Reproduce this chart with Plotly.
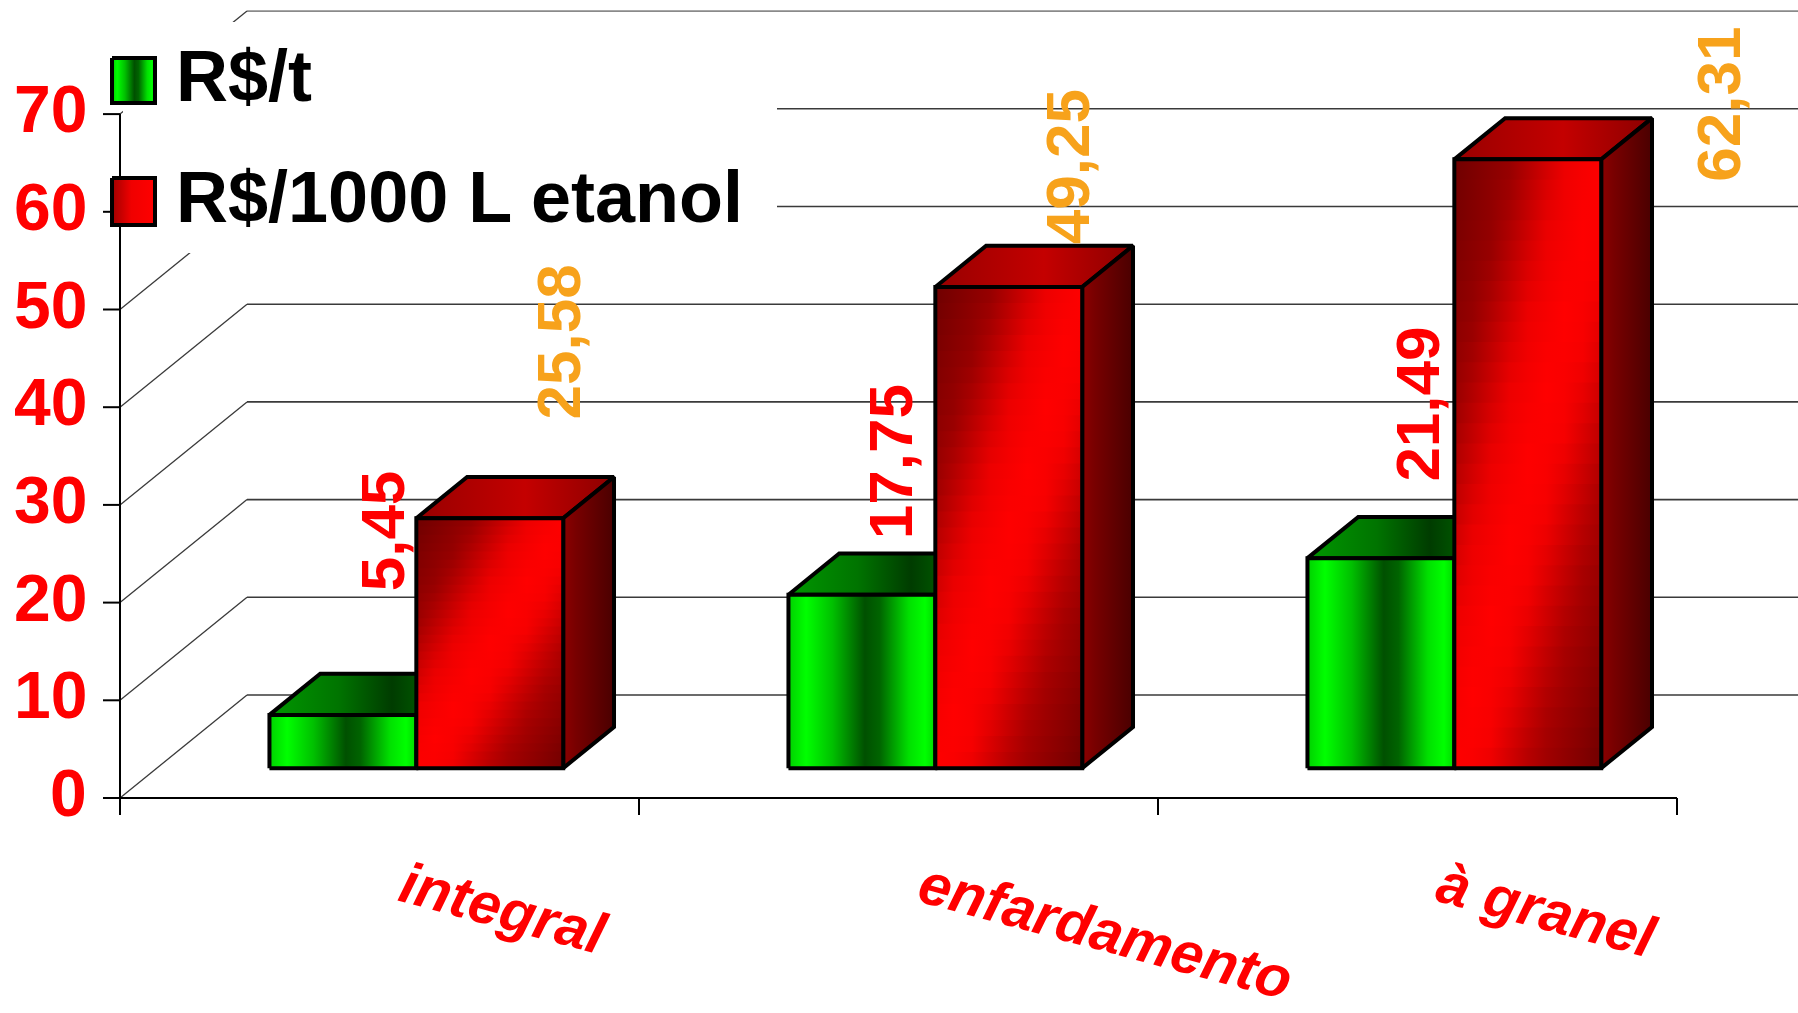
import numpy as np
import plotly.graph_objects as go

# ---------------- data ----------------
categories = ["integral", "enfardamento", "à granel"]
series_names = ["R$/t", "R$/1000 L etanol"]
custo_por_t = [5.45, 17.75, 21.49]
custo_por_1000l = [25.58, 49.25, 62.31]
y_ticks = [0, 10, 20, 30, 40, 50, 60, 70]

# ---------------- canvas / oblique 3-D projection ----------------
W, H = 1798, 1013
X0_PX, Y0_PX = 120, 798          # pixel of the front corner (category 0, value 0)
CAT_PX = 519.0                   # pixels per category slot
VAL_PX = 9.77                    # pixels per value unit
WALL_DX = 127 / CAT_PX           # depth of the box, in x units
WALL_DY = 103 / VAL_PX           # depth of the box, in y units
BAR_W = 0.283                    # bar width, in category units
D_FRONT, D_BACK = 0.29, 0.69     # bar front / back depth (fraction of the box)

X_MIN, X_MAX = -X0_PX / CAT_PX, (W - X0_PX) / CAT_PX
Y_MIN, Y_MAX = (Y0_PX - H) / VAL_PX, Y0_PX / VAL_PX


def proj(x, v, d):
    """Project (category x, value v, depth d) onto the 2-D axes."""
    return x + d * WALL_DX, v + d * WALL_DY


def px_x(px):
    return (px - X0_PX) / CAT_PX


def px_y(py):
    return (Y0_PX - py) / VAL_PX


def pap_y(py):
    return 1 - py / H


FONT_SANS = "Liberation Sans, Arial, sans-serif"

# face shading
GREEN_FRONT = [[0, "#00d000"], [0.12, "#00ff00"], [0.3, "#00c000"], [0.52, "#005000"],
               [0.62, "#006400"], [0.82, "#00e000"], [0.93, "#00ff00"], [1, "#00d800"]]
GREEN_TOP = [[0, "#009800"], [0.35, "#007400"], [0.62, "#003c00"], [0.82, "#006000"], [1, "#007000"]]
RED_TOP = [[0, "#980000"], [0.55, "#c40000"], [1, "#8c0000"]]
RED_SIDE = [[0, "#8c0000"], [0.25, "#780000"], [1, "#4a0000"]]
# diagonal shading of the red front face, as a function of s = x_frac - y_frac
RED_DIAG_S = [-1.0, -0.6, -0.25, 0.0, 0.2, 0.55, 1.0]
RED_DIAG_R = [0x6e, 0x98, 0xec, 0xff, 0xf6, 0xa8, 0x70]
LEGEND_RED = [[0, "#a00000"], [0.45, "#f00000"], [1, "#ff0000"]]

OUTLINE = dict(color="black", width=4)

fig = go.Figure()


def add_poly(xs, ys, scale=None, line=None, fill=True):
    fig.add_trace(go.Scatter(
        x=list(xs) + [xs[0]], y=list(ys) + [ys[0]],
        mode="lines",
        fill="toself" if fill else None,
        fillgradient=dict(type="horizontal", colorscale=scale) if (fill and scale) else None,
        line=line if line else dict(width=0, color="rgba(0,0,0,0)"),
        hoverinfo="skip", showlegend=False,
    ))


def add_lines(segments, color, width):
    xs, ys = [], []
    for (xa, ya), (xb, yb) in segments:
        xs += [xa, xb, None]
        ys += [ya, yb, None]
    fig.add_trace(go.Scatter(x=xs, y=ys, mode="lines",
                             line=dict(color=color, width=width),
                             hoverinfo="skip", showlegend=False))


# ---------------- walls ----------------
back = [(proj(0, v, 1), (X_MAX + 1, v + WALL_DY)) for v in y_ticks[:-1]]
add_lines(back, "#3a3a3a", 1.6)
add_lines([(proj(0, y_ticks[-1], 1), (X_MAX + 1, y_ticks[-1] + WALL_DY))], "#8a8a8a", 1.6)
side = [(proj(0, v, 0), proj(0, v, 1)) for v in y_ticks]
add_lines(side, "#3a3a3a", 1.3)

# ---------------- legend backdrop ----------------
add_poly([px_x(123), px_x(777), px_x(777), px_x(123)],
         [px_y(22), px_y(22), px_y(253), px_y(253)],
         scale=[[0, "white"], [1, "white"]])

# ---------------- axes ----------------
add_lines([((0, 0), (0, y_ticks[-1]))], "black", 2)
add_lines([((px_x(103), v), (0, v)) for v in y_ticks], "black", 2)
add_lines([((0, 0), (len(categories), 0))], "black", 2)
add_lines([((k, 0), (k, px_y(815))) for k in range(len(categories) + 1)], "black", 2)


# ---------------- bars ----------------
def rgb(r):
    return f"rgb({int(round(r))},0,0)"


def bar(i, series, v):
    xl = i + 0.5 - BAR_W + series * BAR_W
    xr = xl + BAR_W
    fl, fb = proj(xl, 0, D_FRONT)
    fr, _ = proj(xr, 0, D_FRONT)
    _, ft = proj(xl, v, D_FRONT)
    bl, bt = proj(xl, v, D_BACK)
    br, bb = proj(xr, 0, D_BACK)
    # top face
    add_poly([fl, fr, br, bl], [ft, ft, bt, bt],
             scale=GREEN_TOP if series == 0 else RED_TOP, line=OUTLINE)
    if series == 0:
        add_poly([fl, fr, fr, fl], [fb, fb, ft, ft], scale=GREEN_FRONT, line=OUTLINE)
        return
    # right side face
    add_poly([fr, br, br, fr], [fb, bb, bt, ft], scale=RED_SIDE, line=OUTLINE)
    # front face with diagonal shading, built from thin horizontal strips
    n = 30
    xf = np.linspace(0, 1, 9)
    for k in range(n):
        yf = (k + 0.5) / n
        s = xf - yf
        reds = np.interp(s, RED_DIAG_S, RED_DIAG_R)
        scale = [[float(p), rgb(r)] for p, r in zip(xf, reds)]
        y0 = fb + (ft - fb) * k / n
        y1 = fb + (ft - fb) * min(1.0, (k + 1.4) / n)
        add_poly([fl, fr, fr, fl], [y0, y0, y1, y1], scale=scale)
    add_poly([fl, fr, fr, fl], [fb, fb, ft, ft], line=OUTLINE, fill=False)


for i in range(len(categories)):
    bar(i, 0, custo_por_t[i])
    bar(i, 1, custo_por_1000l[i])

# ---------------- legend keys ----------------
add_poly([px_x(112), px_x(155), px_x(155), px_x(112)],
         [px_y(58), px_y(58), px_y(103), px_y(103)], scale=GREEN_FRONT, line=OUTLINE)
add_poly([px_x(112), px_x(155), px_x(155), px_x(112)],
         [px_y(178), px_y(178), px_y(225), px_y(225)], scale=LEGEND_RED, line=OUTLINE)

annotations = []
for name, cy in zip(series_names, [76, 197]):
    annotations.append(dict(x=174 / W, y=pap_y(cy), xref="paper", yref="paper",
                            text=name, showarrow=False, xanchor="left", yanchor="middle",
                            font=dict(family=FONT_SANS, size=72, color="black", weight="bold")))

# y tick labels
for v in y_ticks:
    annotations.append(dict(x=0, y=v, xref="x", yref="y", text=str(v), showarrow=False,
                            xanchor="right", yanchor="middle", xshift=-31, yshift=5,
                            font=dict(family=FONT_SANS, size=66, color="#ff0000", weight="bold")))

# category labels
for i, name in enumerate(categories):
    annotations.append(dict(x=i + 0.5, y=pap_y(848), xref="x", yref="paper", text=name,
                            showarrow=False, textangle=15, xanchor="left", yanchor="top",
                            xshift=12, borderpad=0,
                            font=dict(family=FONT_SANS, size=58, color="#ff0000",
                                      style="italic", weight="bold")))

# value labels, nudged (in pixels) from each bar's front-top-left corner
label_nudge = [
    [(113, -184), (102, -133), (110, -154)],
    [(142, -176), (133, -120), (264, -55)],
]
label_color = ["#ff0000", "#f7a21b"]
for series, vals in enumerate([custo_por_t, custo_por_1000l]):
    for i, v in enumerate(vals):
        xl = i + 0.5 - BAR_W + series * BAR_W
        ax, ay = proj(xl, v, D_FRONT)
        dx, dy = label_nudge[series][i]
        annotations.append(dict(x=ax, y=ay, xref="x", yref="y",
                                text=f"{v:.2f}".replace(".", ","), showarrow=False,
                                textangle=-90, xanchor="center", yanchor="middle",
                                xshift=dx, yshift=-dy,
                                font=dict(family=FONT_SANS, size=62, color=label_color[series],
                                          weight="bold")))

fig.update_layout(
    width=W, height=H,
    margin=dict(l=0, r=0, t=0, b=0),
    paper_bgcolor="white", plot_bgcolor="white",
    xaxis=dict(range=[X_MIN, X_MAX], visible=False, fixedrange=True),
    yaxis=dict(range=[Y_MIN, Y_MAX], visible=False, fixedrange=True),
    showlegend=False,
    annotations=annotations,
)

fig.write_html("out.html", config={"displayModeBar": False})
